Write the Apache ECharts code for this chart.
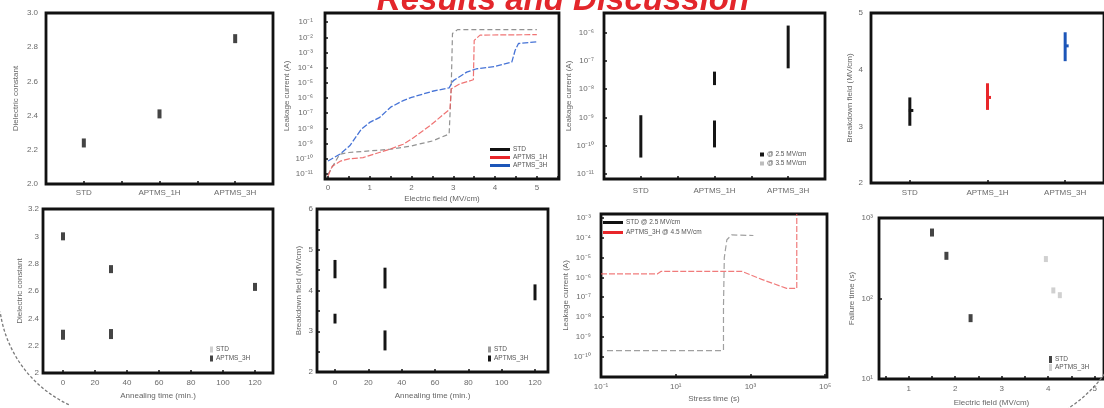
<!DOCTYPE html>
<html><head><meta charset="utf-8">
<script src="https://cdn.jsdelivr.net/npm/echarts@6/dist/echarts.min.js"></script>
<style>html,body{margin:0;padding:0;background:#fff;overflow:hidden}#c{width:1104px;height:408px}</style>
</head><body><div id="c"></div>
<script>
// ---------------- DATA ----------------
const catNames = ['STD', 'APTMS_1H', 'APTMS_3H'];

// Panel 1: dielectric constant by sample
const p1Dielectric = [2.24, 2.41, 2.85];

// Panel 2: I-V curves (field MV/cm, current A)
const p2StdField = [0, 0.28, 0.5, 1, 1.5, 2, 2.5, 2.9, 2.95, 2.98, 3.1, 5];
const p2StdCurrent = [9.5e-12, 2.0e-10, 2.6e-10, 3.3e-10, 4.3e-10, 7.1e-10, 1.5e-9, 4.3e-9, 5.2e-6, 1.8e-2, 3.2e-2, 3.2e-2];
const p2H1Field = [0, 0.1, 0.3, 0.5, 0.84, 1.48, 1.8, 2.0, 2.44, 2.92, 2.95, 3.16, 3.48, 3.5, 3.64, 5];
const p2H1Current = [7.4e-12, 3.2e-11, 7.1e-11, 1.0e-10, 1.2e-10, 4.3e-10, 9.1e-10, 2.0e-9, 1.5e-8, 1.9e-7, 4.0e-6, 8.7e-6, 1.6e-5, 6.3e-3, 1.4e-2, 1.5e-2];
const p2H3Field = [0, 0.28, 0.52, 0.8, 1.0, 1.24, 1.5, 1.8, 2.0, 2.5, 2.9, 3.0, 3.32, 3.56, 4.0, 4.4, 4.48, 4.56, 5];
const p2H3Current = [7.2e-11, 2.0e-10, 7.1e-10, 9.1e-9, 2.5e-8, 5.4e-8, 2.5e-7, 6.8e-7, 1.1e-6, 2.8e-6, 4.7e-6, 1.4e-5, 5.1e-5, 8.5e-5, 1.2e-4, 2.3e-4, 1.4e-3, 3.9e-3, 5.0e-3];

// Panel 3: leakage current ranges (category index, min A, max A)
const p3LowCat = [0, 1];
const p3LowMin = [3.8e-11, 8.7e-11];
const p3LowMax = [1.2e-9, 7.8e-10];
const p3HighCat = [1, 2];
const p3HighMin = [1.4e-8, 5.5e-8];
const p3HighMax = [4.2e-8, 1.8e-6];
const p3Names = ['@ 2.5 MV/cm', '@ 3.5 MV/cm'];

// Panel 4: breakdown field (MV/cm)
const p4Min = [3.01, 3.29, 4.15];
const p4Mean = [3.28, 3.51, 4.42];
const p4Max = [3.51, 3.76, 4.66];

// Panel 5: dielectric constant vs annealing time (min)
const p5StdTime = [0, 30];
const p5StdK = [2.28, 2.285];
const p5H3Time = [0, 30, 120];
const p5H3K = [3.0, 2.76, 2.63];

// Panel 6: breakdown field ranges vs annealing time
const p6StdTime = [0, 30];
const p6StdMin = [3.19, 2.53];
const p6StdMax = [3.43, 3.02];
const p6H3Time = [0, 30, 120];
const p6H3Min = [4.30, 4.05, 3.76];
const p6H3Max = [4.75, 4.56, 4.15];

// Panel 7: current vs stress time (s)
const p7StdTime = [0.145, 190, 190, 200, 234, 316, 1200];
const p7StdCurrent = [2.0e-10, 2.0e-10, 3.2e-8, 1.0e-5, 7.9e-5, 1.4e-4, 1.3e-4];
const p7H3Time = [0.1, 3.2, 4, 590, 2000, 9300, 17400, 17400];
const p7H3Current = [1.5e-6, 1.5e-6, 2.0e-6, 2.0e-6, 7.9e-7, 2.8e-7, 2.8e-7, 1.6e-3];
const p7Names = ['STD @ 2.5 MV/cm', 'APTMS_3H @ 4.5 MV/cm'];

// Panel 8: failure time (s) vs electric field (MV/cm)
const p8StdField = [1.5, 1.81, 2.33];
const p8StdTime = [660, 339, 57];
const p8H3Field = [3.95, 4.11, 4.25];
const p8H3Time = [309, 126, 110];

// ---------------- HELPERS ----------------
const FONT = '"Liberation Sans", Arial, sans-serif';
const TXT = '#6a6a6a';
const lab = {color: TXT, fontSize: 8, fontFamily: FONT};
const seq = (a, b, s) => { const r = []; for (let v = a; v <= b + 1e-9; v += s) r.push(+v.toFixed(6)); return r; };
const lg = v => Math.log10(v);
const SUP = {'-': '\u207B', '0': '\u2070', '1': '\u00B9', '2': '\u00B2', '3': '\u00B3', '4': '\u2074', '5': '\u2075', '6': '\u2076', '7': '\u2077', '8': '\u2078', '9': '\u2079'};
const pow10 = v => '10' + String(Math.round(v)).split('').map(c => SUP[c]).join('');
const strip = n => n.split('|')[1];
const zip = (xs, ys, f) => xs.map((x, i) => [x, f ? f(ys[i]) : ys[i]]);
const catFmt = v => catNames[Math.round(v)];

function axis(gi, o) {
  return {
    gridIndex: gi, type: 'value', min: o.min, max: o.max,
    axisLine: {show: false, onZero: false}, splitLine: {show: false},
    axisTick: o.ticks ? {show: true, inside: true, length: 3, lineStyle: {color: '#111', width: 1.5}, customValues: o.ticks} : {show: false},
    axisLabel: Object.assign({show: true, customValues: o.labels, formatter: o.fmt, margin: o.margin}, lab),
    name: o.name || '', nameLocation: 'middle', nameGap: o.nameGap || 20,
    nameTextStyle: {color: '#666', fontSize: 8, fontFamily: FONT}
  };
}
function rangeItem(w) {
  return function (params, api) {
    const a = api.coord([api.value(0), api.value(1)]);
    const b = api.coord([api.value(0), api.value(2)]);
    return {type: 'rect', shape: {x: a[0] - w / 2, y: b[1], width: w, height: a[1] - b[1]}, style: {fill: api.visual('color')}};
  };
}
const P4_COLORS = ['#151515', '#e8262a', '#1d56b8'];
function p4Item(params, api) {
  const x = api.value(0);
  const lo = api.coord([x, api.value(1)]), mid = api.coord([x, api.value(2)]), hi = api.coord([x, api.value(3)]);
  const c = P4_COLORS[params.dataIndex];
  return {type: 'group', children: [
    {type: 'rect', shape: {x: lo[0] - 1.5, y: hi[1], width: 3, height: lo[1] - hi[1]}, style: {fill: c}},
    {type: 'rect', shape: {x: mid[0] - 1, y: mid[1] - 1.5, width: 4.5, height: 3}, style: {fill: c}}
  ]};
}
function legend(o) {
  return Object.assign({orient: 'vertical', selectedMode: false, formatter: strip, padding: 0,
    textStyle: {fontSize: 6.5, color: '#555', fontFamily: FONT, padding: [0, 0, 0, -2]}}, o);
}

const grids = [
  {left: 46, top: 13, width: 227, height: 171},
  {left: 325, top: 13, width: 234, height: 166},
  {left: 604, top: 13, width: 221, height: 166},
  {left: 871, top: 13, width: 236, height: 170},
  {left: 43, top: 209, width: 230, height: 164},
  {left: 317, top: 209, width: 231, height: 163},
  {left: 601, top: 214, width: 226, height: 163},
  {left: 879, top: 218, width: 242, height: 165}
].map(g => Object.assign({show: true, borderColor: '#111', borderWidth: 2.8, backgroundColor: 'transparent'}, g));

const xAxes = [
  axis(0, {min: -0.5, max: 2.5, ticks: seq(0, 2, 0.5), labels: [0, 1, 2], fmt: catFmt, margin: 5}),
  axis(1, {min: -0.072, max: 5.53, ticks: seq(0, 5.5, 0.5), labels: seq(0, 5, 1), margin: 5, name: 'Electric field (MV/cm)', nameGap: 16}),
  axis(2, {min: -0.5, max: 2.5, ticks: seq(0, 2, 0.5), labels: [0, 1, 2], fmt: catFmt, margin: 8}),
  axis(3, {min: -0.5, max: 2.5, ticks: [0, 1, 2], labels: [0, 1, 2], fmt: catFmt, margin: 6}),
  axis(4, {min: -12.5, max: 131.25, ticks: seq(0, 120, 20), labels: seq(0, 120, 20), margin: 6, name: 'Annealing time (min.)', nameGap: 19}),
  axis(5, {min: -10.8, max: 127.8, ticks: seq(0, 120, 20), labels: seq(0, 120, 20), margin: 7, name: 'Annealing time (min.)', nameGap: 20}),
  axis(6, {min: -1, max: 5.05, ticks: [-1, 1, 3, 5], labels: [-1, 1, 3, 5], fmt: pow10, margin: 6, name: 'Stress time (s)', nameGap: 18}),
  axis(7, {min: 0.36, max: 5.2, ticks: seq(0.5, 5, 0.5), labels: seq(1, 5, 1), margin: 6, name: 'Electric field (MV/cm)', nameGap: 20})
];
const yAxes = [
  axis(0, {min: 2.0, max: 3.0, labels: seq(2, 3, 0.2), fmt: v => v.toFixed(1), margin: 8, name: 'Dielectric constant', nameGap: 26}),
  axis(1, {min: -11.33, max: -0.4, ticks: seq(-11, -1, 1), labels: seq(-11, -1, 1), fmt: pow10, margin: 12, name: 'Leakage current (A)', nameGap: 34}),
  axis(2, {min: -11.18, max: -5.3, ticks: seq(-11, -6, 1), labels: seq(-11, -6, 1), fmt: pow10, margin: 10, name: 'Leakage current (A)', nameGap: 20}),
  axis(3, {min: 2, max: 5, labels: [2, 3, 4, 5], margin: 8, name: 'Breakdown field (MV/cm)', nameGap: 17}),
  axis(4, {min: 2, max: 3.2, labels: seq(2, 3.2, 0.2), fmt: v => String(+v.toFixed(1)), margin: 4, name: 'Dielectric constant', nameGap: 19}),
  axis(5, {min: 2, max: 6, ticks: seq(2.5, 5.5, 0.5), labels: [2, 3, 4, 5, 6], margin: 4, name: 'Breakdown field (MV/cm)', nameGap: 14}),
  axis(6, {min: -11.03, max: -2.8, ticks: seq(-10, -3, 1), labels: seq(-10, -3, 1), fmt: pow10, margin: 10, name: 'Leakage current (A)', nameGap: 27}),
  axis(7, {min: 1, max: 3, ticks: [1, 2, 3], labels: [1, 2, 3], fmt: pow10, margin: 6, name: 'Failure time (s)', nameGap: 23})
];

const bar = (w, h) => ({symbol: 'rect', symbolSize: [w, h]});

const series = [
  // Panel 1
  Object.assign({type: 'scatter', name: 'p1|STD', xAxisIndex: 0, yAxisIndex: 0, data: p1Dielectric.map((v, i) => [i, v]), itemStyle: {color: '#151515'}}, bar(4, 9)),
  // Panel 2
  {type: 'line', name: 'p2|STD', xAxisIndex: 1, yAxisIndex: 1, showSymbol: false, data: zip(p2StdField, p2StdCurrent, lg),
    itemStyle: {color: '#111'}, lineStyle: {color: 'rgba(110,110,110,0.75)', width: 1.2, type: [5, 3]}},
  {type: 'line', name: 'p2|APTMS_1H', xAxisIndex: 1, yAxisIndex: 1, showSymbol: false, data: zip(p2H1Field, p2H1Current, lg),
    itemStyle: {color: '#e8262a'}, lineStyle: {color: 'rgba(236,90,90,0.85)', width: 1.2, type: [6, 2]}},
  {type: 'line', name: 'p2|APTMS_3H', xAxisIndex: 1, yAxisIndex: 1, showSymbol: false, data: zip(p2H3Field, p2H3Current, lg),
    itemStyle: {color: '#1d56b8'}, lineStyle: {color: 'rgba(50,100,210,0.9)', width: 1.3, type: [6, 2]}},
  // Panel 3
  {type: 'custom', name: 'p3|' + p3Names[0], xAxisIndex: 2, yAxisIndex: 2, renderItem: rangeItem(3),
    data: p3LowCat.map((c, i) => [c, lg(p3LowMin[i]), lg(p3LowMax[i])]), itemStyle: {color: '#151515'}},
  {type: 'custom', name: 'p3|' + p3Names[1], xAxisIndex: 2, yAxisIndex: 2, renderItem: rangeItem(3),
    data: p3HighCat.map((c, i) => [c, lg(p3HighMin[i]), lg(p3HighMax[i])]), itemStyle: {color: '#151515'}},
  // Panel 4
  {type: 'custom', name: 'p4|BD', xAxisIndex: 3, yAxisIndex: 3, renderItem: p4Item,
    data: p4Min.map((v, i) => [i, v, p4Mean[i], p4Max[i]])},
  // Panel 5
  Object.assign({type: 'scatter', name: 'p5|STD', xAxisIndex: 4, yAxisIndex: 4, data: zip(p5StdTime, p5StdK), itemStyle: {color: '#151515'}}, bar(4, 10)),
  Object.assign({type: 'scatter', name: 'p5|APTMS_3H', xAxisIndex: 4, yAxisIndex: 4, data: zip(p5H3Time, p5H3K), itemStyle: {color: '#151515'}}, bar(4, 8)),
  // Panel 6
  {type: 'custom', name: 'p6|STD', xAxisIndex: 5, yAxisIndex: 5, renderItem: rangeItem(3),
    data: p6StdTime.map((t, i) => [t, p6StdMin[i], p6StdMax[i]]), itemStyle: {color: '#151515'}},
  {type: 'custom', name: 'p6|APTMS_3H', xAxisIndex: 5, yAxisIndex: 5, renderItem: rangeItem(3),
    data: p6H3Time.map((t, i) => [t, p6H3Min[i], p6H3Max[i]]), itemStyle: {color: '#151515'}},
  // Panel 7
  {type: 'line', name: 'p7|' + p7Names[0], xAxisIndex: 6, yAxisIndex: 6, showSymbol: false,
    data: p7StdTime.map((t, i) => [lg(t), lg(p7StdCurrent[i])]),
    itemStyle: {color: '#111'}, lineStyle: {color: 'rgba(120,120,120,0.7)', width: 1.2, type: [6, 3]}},
  {type: 'line', name: 'p7|' + p7Names[1], xAxisIndex: 6, yAxisIndex: 6, showSymbol: false,
    data: p7H3Time.map((t, i) => [lg(t), lg(p7H3Current[i])]),
    itemStyle: {color: '#e8262a'}, lineStyle: {color: 'rgba(236,90,90,0.8)', width: 1.2, type: [6, 2]}},
  // Panel 8
  Object.assign({type: 'scatter', name: 'p8|STD', xAxisIndex: 7, yAxisIndex: 7, data: zip(p8StdField, p8StdTime, lg), itemStyle: {color: '#151515'}}, bar(4, 8)),
  Object.assign({type: 'scatter', name: 'p8|APTMS_3H', xAxisIndex: 7, yAxisIndex: 7, data: zip(p8H3Field, p8H3Time, lg), itemStyle: {color: '#c4c4c4'}}, bar(4, 6))
];

const legends = [
  legend({left: 490, top: 146, icon: 'rect', itemWidth: 20, itemHeight: 3, itemGap: 1,
    data: [{name: 'p2|STD', itemStyle: {color: '#111'}}, {name: 'p2|APTMS_1H', itemStyle: {color: '#e8262a'}}, {name: 'p2|APTMS_3H', itemStyle: {color: '#1d56b8'}}]}),
  legend({left: 760, top: 151, icon: 'rect', itemWidth: 4, itemHeight: 4, itemGap: 2,
    data: [{name: 'p3|' + p3Names[0], itemStyle: {color: '#151515'}}, {name: 'p3|' + p3Names[1], itemStyle: {color: '#bdbdbd'}}]}),
  legend({left: 210, top: 346, icon: 'rect', itemWidth: 3, itemHeight: 6, itemGap: 2,
    data: [{name: 'p5|STD', itemStyle: {color: '#c4c4c4'}}, {name: 'p5|APTMS_3H', itemStyle: {color: '#151515'}}]}),
  legend({left: 488, top: 346, icon: 'rect', itemWidth: 3, itemHeight: 6, itemGap: 2,
    data: [{name: 'p6|STD', itemStyle: {color: '#999'}}, {name: 'p6|APTMS_3H', itemStyle: {color: '#151515'}}]}),
  legend({left: 603, top: 219, icon: 'rect', itemWidth: 20, itemHeight: 3, itemGap: 3,
    data: [{name: 'p7|' + p7Names[0], itemStyle: {color: '#111'}}, {name: 'p7|' + p7Names[1], itemStyle: {color: '#e8262a'}}]}),
  legend({left: 1049, top: 356, icon: 'rect', itemWidth: 3, itemHeight: 7, itemGap: 1,
    data: [{name: 'p8|STD', itemStyle: {color: '#151515'}}, {name: 'p8|APTMS_3H', itemStyle: {color: '#c4c4c4'}}]})
];

const chart = echarts.init(document.getElementById('c'));
chart.setOption({
  animation: false,
  backgroundColor: '#fff',
  textStyle: {fontFamily: FONT},
  grid: grids,
  xAxis: xAxes,
  yAxis: yAxes,
  legend: legends,
  series: series,
  graphic: [
    {type: 'text', x: 563, y: 17, z: 10,
      style: {text: 'Results and Discussion', font: 'italic bold 33px "Liberation Sans", Arial, sans-serif', fill: '#e3262b',
        align: 'center', verticalAlign: 'bottom', textAlign: 'center', textVerticalAlign: 'bottom'}},
    {type: 'arc', shape: {cx: 120, cy: 295, r: 121, startAngle: 115 * Math.PI / 180, endAngle: 172 * Math.PI / 180},
      style: {stroke: '#7a7a7a', lineWidth: 1.3, lineDash: [3, 2], fill: null}},
    {type: 'arc', shape: {cx: 990, cy: 290, r: 142, startAngle: 20 * Math.PI / 180, endAngle: 70 * Math.PI / 180},
      style: {stroke: '#7a7a7a', lineWidth: 1.3, lineDash: [3, 2], fill: null}}
  ]
});
</script>
</body></html>
